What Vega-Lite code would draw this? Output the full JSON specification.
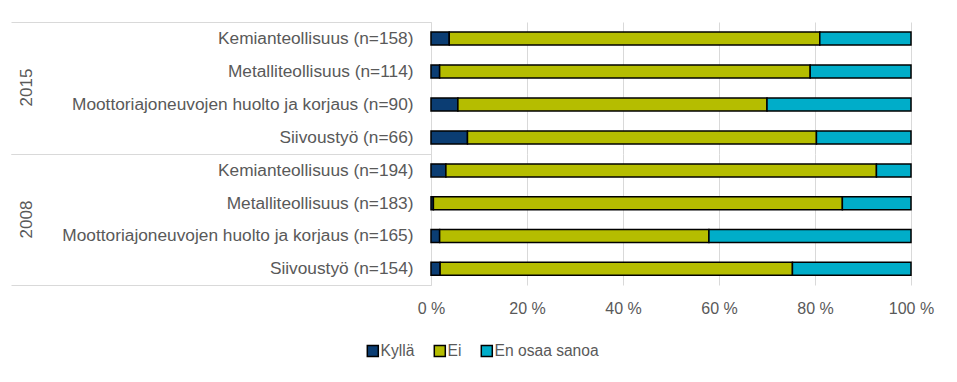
{
  "$schema": "https://vega.github.io/schema/vega-lite/v6.json",
  "padding": {"left": 10, "top": 13, "right": 5, "bottom": 5},
  "background": "white",
  "spacing": 0,
  "bounds": "flush",
  "config": {
    "view": {"stroke": null},
    "font": "Liberation Sans",
    "axis": {"labelColor": "#595959", "titleColor": "#595959"}
  },
  "data": {
    "values": [
      {"year": "2015", "cat": "Kemianteollisuus (n=158)", "resp": "Kyllä", "k": 1, "value": 3.8},
      {"year": "2015", "cat": "Kemianteollisuus (n=158)", "resp": "Ei", "k": 2, "value": 77.2},
      {"year": "2015", "cat": "Kemianteollisuus (n=158)", "resp": "En osaa sanoa", "k": 3, "value": 19.0},
      {"year": "2015", "cat": "Metalliteollisuus (n=114)", "resp": "Kyllä", "k": 1, "value": 1.8},
      {"year": "2015", "cat": "Metalliteollisuus (n=114)", "resp": "Ei", "k": 2, "value": 77.2},
      {"year": "2015", "cat": "Metalliteollisuus (n=114)", "resp": "En osaa sanoa", "k": 3, "value": 21.0},
      {"year": "2015", "cat": "Moottoriajoneuvojen huolto ja korjaus (n=90)", "resp": "Kyllä", "k": 1, "value": 5.6},
      {"year": "2015", "cat": "Moottoriajoneuvojen huolto ja korjaus (n=90)", "resp": "Ei", "k": 2, "value": 64.4},
      {"year": "2015", "cat": "Moottoriajoneuvojen huolto ja korjaus (n=90)", "resp": "En osaa sanoa", "k": 3, "value": 30.0},
      {"year": "2015", "cat": "Siivoustyö (n=66)", "resp": "Kyllä", "k": 1, "value": 7.6},
      {"year": "2015", "cat": "Siivoustyö (n=66)", "resp": "Ei", "k": 2, "value": 72.7},
      {"year": "2015", "cat": "Siivoustyö (n=66)", "resp": "En osaa sanoa", "k": 3, "value": 19.7},
      {"year": "2008", "cat": "Kemianteollisuus (n=194)", "resp": "Kyllä", "k": 1, "value": 3.1},
      {"year": "2008", "cat": "Kemianteollisuus (n=194)", "resp": "Ei", "k": 2, "value": 89.7},
      {"year": "2008", "cat": "Kemianteollisuus (n=194)", "resp": "En osaa sanoa", "k": 3, "value": 7.2},
      {"year": "2008", "cat": "Metalliteollisuus (n=183)", "resp": "Kyllä", "k": 1, "value": 0.5},
      {"year": "2008", "cat": "Metalliteollisuus (n=183)", "resp": "Ei", "k": 2, "value": 85.2},
      {"year": "2008", "cat": "Metalliteollisuus (n=183)", "resp": "En osaa sanoa", "k": 3, "value": 14.3},
      {"year": "2008", "cat": "Moottoriajoneuvojen huolto ja korjaus (n=165)", "resp": "Kyllä", "k": 1, "value": 1.8},
      {"year": "2008", "cat": "Moottoriajoneuvojen huolto ja korjaus (n=165)", "resp": "Ei", "k": 2, "value": 56.1},
      {"year": "2008", "cat": "Moottoriajoneuvojen huolto ja korjaus (n=165)", "resp": "En osaa sanoa", "k": 3, "value": 42.1},
      {"year": "2008", "cat": "Siivoustyö (n=154)", "resp": "Kyllä", "k": 1, "value": 1.9},
      {"year": "2008", "cat": "Siivoustyö (n=154)", "resp": "Ei", "k": 2, "value": 73.4},
      {"year": "2008", "cat": "Siivoustyö (n=154)", "resp": "En osaa sanoa", "k": 3, "value": 24.7}
    ]
  },
  "vconcat": [
    {
      "width": 480,
      "height": 132,
      "transform": [{"filter": "datum.year === '2015'"}],
      "mark": {"type": "bar", "stroke": "#000000", "strokeWidth": 1.5, "size": 13},
      "encoding": {
        "y": {
          "field": "cat", "type": "nominal", "sort": null,
          "scale": {"paddingInner": 0, "paddingOuter": 0},
          "axis": {
            "title": "2015", "titleX": -405, "titleY": 65, "titleAngle": -90,
            "titleAlign": "center", "titleBaseline": "middle", "titleFontSize": 17,
            "titleFontWeight": "normal",
            "tickBand": "extent", "tickSize": 420, "tickColor": "#d9d9d9", "tickWidth": 1,
            "tickOpacity": {"condition": {"test": "datum.index === 1 || datum.index < 0", "value": 1}, "value": 0},
            "labelPadding": -402, "labelFontSize": 17.3, "labelLimit": 0,
            "domainColor": "#d9d9d9"
          }
        },
        "x": {
          "field": "value", "type": "quantitative", "stack": "zero",
          "scale": {"domain": [0, 100]},
          "axis": {
            "title": null, "values": [0, 20, 40, 60, 80, 100], "labels": false,
            "grid": true, "gridColor": "#d9d9d9", "domain": false, "ticks": false
          }
        },
        "color": {
          "field": "resp", "type": "nominal",
          "scale": {"domain": ["Kyllä", "Ei", "En osaa sanoa"], "range": ["#0b3d73", "#b5bd00", "#00adc9"]},
          "legend": {
            "orient": "none", "legendX": -66, "legendY": 321, "direction": "horizontal",
            "title": null, "symbolType": "square", "symbolSize": 121,
            "symbolStrokeColor": "#000000", "symbolStrokeWidth": 1.5,
            "labelFontSize": 15.6, "labelColor": "#595959", "columnPadding": 16, "labelOffset": 0
          }
        },
        "order": {"field": "k", "type": "quantitative"}
      }
    },
    {
      "width": 480,
      "height": 131,
      "transform": [{"filter": "datum.year === '2008'"}],
      "mark": {"type": "bar", "stroke": "#000000", "strokeWidth": 1.5, "size": 13},
      "encoding": {
        "y": {
          "field": "cat", "type": "nominal", "sort": null,
          "scale": {"paddingInner": 0, "paddingOuter": 0},
          "axis": {
            "title": "2008", "titleX": -405, "titleY": 65, "titleAngle": -90,
            "titleAlign": "center", "titleBaseline": "middle", "titleFontSize": 17,
            "titleFontWeight": "normal",
            "tickBand": "extent", "tickSize": 420, "tickColor": "#d9d9d9", "tickWidth": 1,
            "tickOpacity": {"condition": {"test": "datum.index === 1 || datum.index < 0", "value": 1}, "value": 0},
            "labelPadding": -402, "labelFontSize": 17.3, "labelLimit": 0,
            "domainColor": "#d9d9d9"
          }
        },
        "x": {
          "field": "value", "type": "quantitative", "stack": "zero",
          "scale": {"domain": [0, 100]},
          "axis": {
            "title": null, "values": [0, 20, 40, 60, 80, 100],
            "labelExpr": "datum.value + ' %'", "labelFontSize": 16, "labelPadding": 15,
            "labelFlush": false,
            "grid": true, "gridColor": "#d9d9d9", "domain": false, "ticks": false
          }
        },
        "color": {
          "field": "resp", "type": "nominal",
          "scale": {"domain": ["Kyllä", "Ei", "En osaa sanoa"], "range": ["#0b3d73", "#b5bd00", "#00adc9"]}
        },
        "order": {"field": "k", "type": "quantitative"}
      }
    }
  ]
}
